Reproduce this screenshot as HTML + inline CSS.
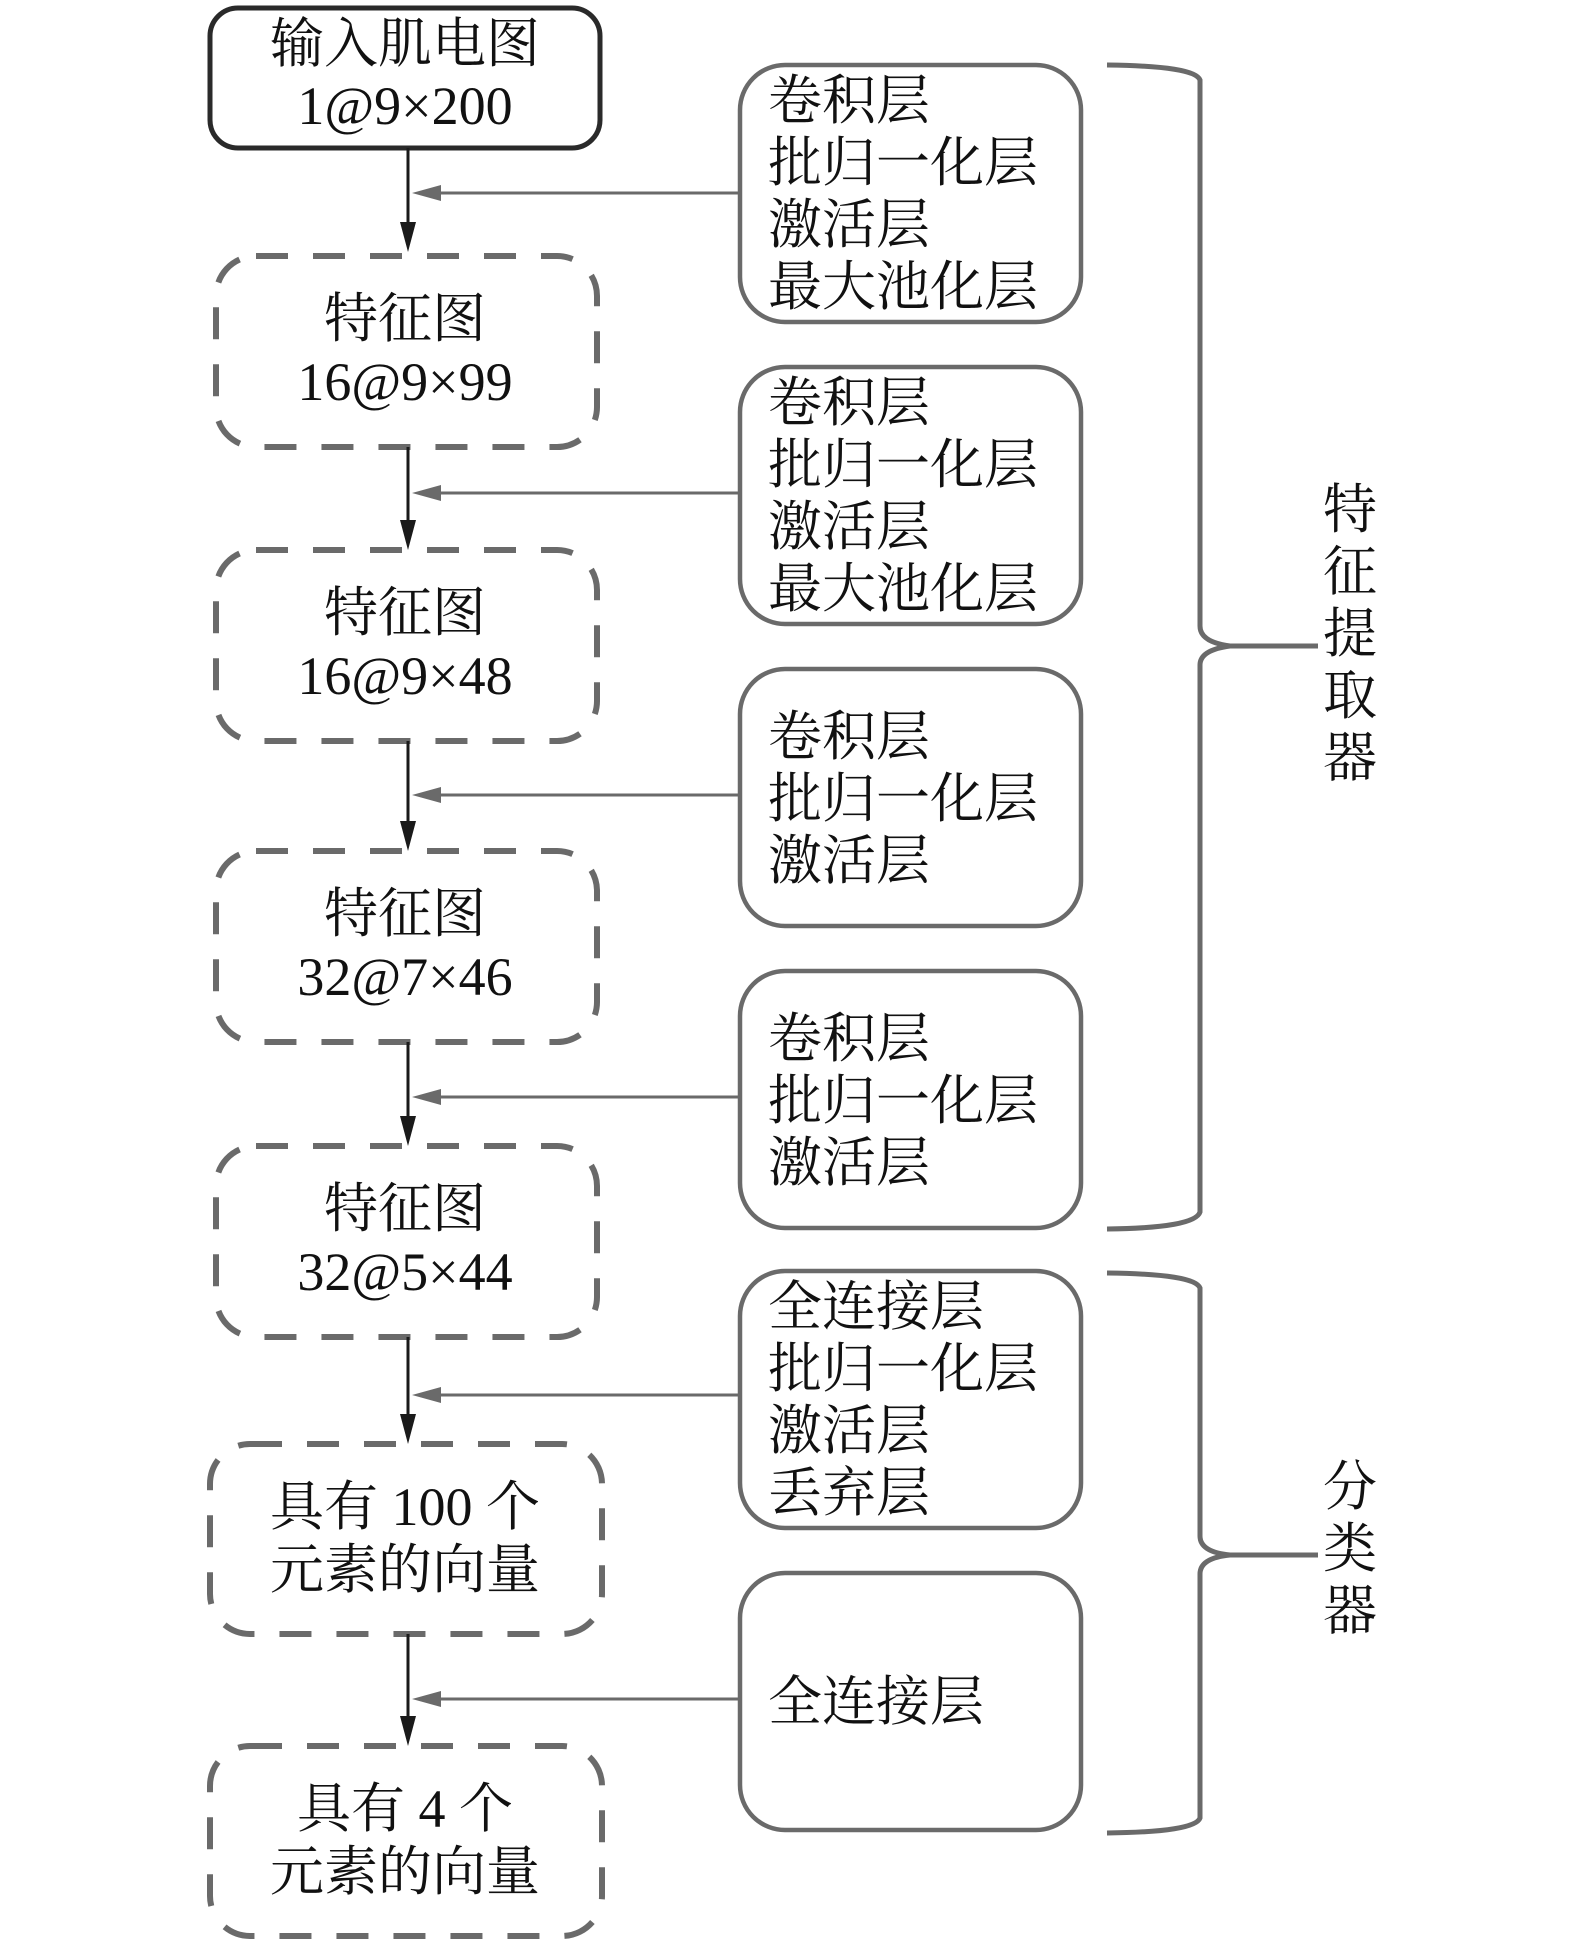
<!DOCTYPE html>
<html><head><meta charset="utf-8"><style>
html,body{margin:0;padding:0;background:#fff;}
svg{display:block;}
text{font-family:"Liberation Serif","Noto Serif CJK SC","Noto Sans CJK SC",serif;fill:#111;}
</style></head><body>
<svg width="1575" height="1953" viewBox="0 0 1575 1953" xmlns="http://www.w3.org/2000/svg">
<defs>
<marker id="blk" markerWidth="10" markerHeight="10" refX="9" refY="5" orient="auto" markerUnits="userSpaceOnUse" viewBox="0 0 10 10">
</marker>
</defs>
<!-- input box -->
<rect x="210" y="8" width="390" height="140" rx="28" fill="none" stroke="#2a2a2a" stroke-width="5"/>
<g font-size="54" text-anchor="middle">
<text x="405" y="62">输入肌电图</text>
<text x="405" y="124">1@9×200</text>
</g>
<!-- dashed boxes -->
<g fill="none" stroke="#6a6a6a" stroke-width="6" stroke-dasharray="32 25">
<rect x="216" y="256" width="381" height="191" rx="40"/>
<rect x="216" y="550" width="381" height="191" rx="40"/>
<rect x="216" y="851" width="381" height="191" rx="40"/>
<rect x="216" y="1146" width="381" height="191" rx="40"/>
<rect x="210" y="1444" width="392" height="190" rx="40"/>
<rect x="210" y="1746" width="392" height="190" rx="40"/>
</g>
<g font-size="54" text-anchor="middle">
<text x="405" y="337">特征图</text><text x="405" y="400">16@9×99</text>
<text x="405" y="631">特征图</text><text x="405" y="694">16@9×48</text>
<text x="405" y="932">特征图</text><text x="405" y="995">32@7×46</text>
<text x="405" y="1227">特征图</text><text x="405" y="1290">32@5×44</text>
<text x="405" y="1525">具有 100 个</text><text x="405" y="1588">元素的向量</text>
<text x="405" y="1827">具有 4 个</text><text x="405" y="1890">元素的向量</text>
</g>
<!-- down arrows -->
<g stroke="#1a1a1a" stroke-width="3">
<line x1="408" y1="148" x2="408" y2="228"/>
<line x1="408" y1="447" x2="408" y2="522"/>
<line x1="408" y1="741" x2="408" y2="823"/>
<line x1="408" y1="1042" x2="408" y2="1118"/>
<line x1="408" y1="1337" x2="408" y2="1416"/>
<line x1="408" y1="1634" x2="408" y2="1718"/>
</g>
<g fill="#1a1a1a">
<polygon points="400,222 416,222 408,252"/>
<polygon points="400,520 416,520 408,550"/>
<polygon points="400,821 416,821 408,851"/>
<polygon points="400,1116 416,1116 408,1146"/>
<polygon points="400,1414 416,1414 408,1444"/>
<polygon points="400,1716 416,1716 408,1746"/>
</g>
<!-- horizontal gray arrows -->
<g stroke="#6a6a6a" stroke-width="3">
<line x1="438" y1="193" x2="738" y2="193"/>
<line x1="438" y1="493" x2="738" y2="493"/>
<line x1="438" y1="795" x2="738" y2="795"/>
<line x1="438" y1="1097" x2="738" y2="1097"/>
<line x1="438" y1="1395" x2="738" y2="1395"/>
<line x1="438" y1="1699" x2="738" y2="1699"/>
</g>
<g fill="#6a6a6a">
<polygon points="412,193 441,185 441,201"/>
<polygon points="412,493 441,485 441,501"/>
<polygon points="412,795 441,787 441,803"/>
<polygon points="412,1097 441,1089 441,1105"/>
<polygon points="412,1395 441,1387 441,1403"/>
<polygon points="412,1699 441,1691 441,1707"/>
</g>
<!-- right boxes -->
<g fill="none" stroke="#6a6a6a" stroke-width="4.5">
<rect x="740" y="65" width="341" height="257" rx="45"/>
<rect x="740" y="367" width="341" height="257" rx="45"/>
<rect x="740" y="669" width="341" height="257" rx="45"/>
<rect x="740" y="971" width="341" height="257" rx="45"/>
<rect x="740" y="1271" width="341" height="257" rx="45"/>
<rect x="740" y="1573" width="341" height="257" rx="45"/>
</g>
<g font-size="54">
<text x="768" y="119">卷积层</text><text x="768" y="181">批归一化层</text><text x="768" y="243">激活层</text><text x="768" y="305">最大池化层</text>
<text x="768" y="421">卷积层</text><text x="768" y="483">批归一化层</text><text x="768" y="545">激活层</text><text x="768" y="607">最大池化层</text>
<text x="768" y="755">卷积层</text><text x="768" y="817">批归一化层</text><text x="768" y="879">激活层</text>
<text x="768" y="1057">卷积层</text><text x="768" y="1119">批归一化层</text><text x="768" y="1181">激活层</text>
<text x="768" y="1325">全连接层</text><text x="768" y="1387">批归一化层</text><text x="768" y="1449">激活层</text><text x="768" y="1511">丢弃层</text>
<text x="768" y="1720">全连接层</text>
</g>
<!-- braces -->
<g fill="none" stroke="#6a6a6a" stroke-width="5">
<path d="M1107,65 Q1195,66 1200,80 L1200,626 Q1200,642 1230,646 L1318,646 M1230,646 Q1200,650 1200,665 L1200,1212 Q1195,1228 1107,1229"/>
<path d="M1107,1273 Q1195,1274 1200,1288 L1200,1536 Q1200,1552 1230,1555 L1318,1555 M1230,1555 Q1200,1558 1200,1574 L1200,1818 Q1195,1832 1107,1833"/>
</g>
<g font-size="54" text-anchor="middle">
<text x="1350" y="528">特</text><text x="1350" y="590">征</text><text x="1350" y="652">提</text><text x="1350" y="714">取</text><text x="1350" y="776">器</text>
<text x="1350" y="1505">分</text><text x="1350" y="1567">类</text><text x="1350" y="1629">器</text>
</g>
</svg>
</body></html>
